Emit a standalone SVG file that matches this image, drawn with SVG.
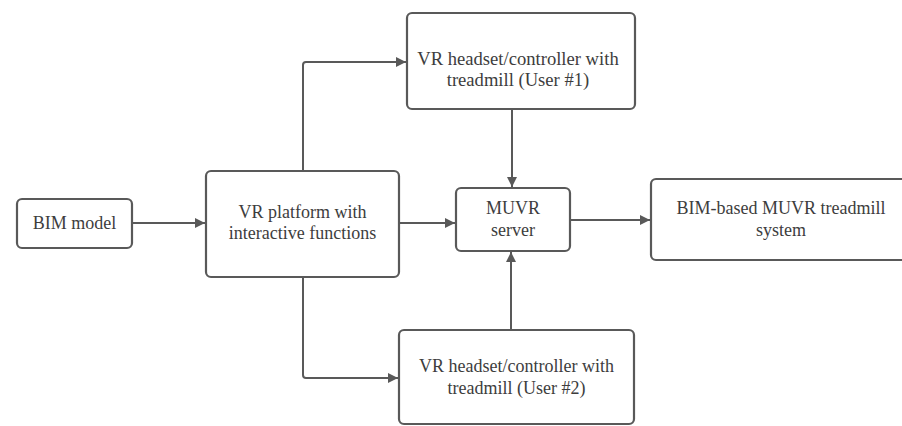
<svg xmlns="http://www.w3.org/2000/svg" width="902" height="426" viewBox="0 0 902 426">
<style>
.box{fill:#fff;stroke:#595959;stroke-width:2.2}
.lbl{font-family:"Liberation Serif","Times New Roman",serif;font-size:18px;fill:#3d3d3d;text-anchor:middle}
.big{font-size:18.6px}
.edge{fill:none;stroke:#595959;stroke-width:2}
</style>
<defs>
<marker id="arr" viewBox="0 0 10 10" refX="10" refY="5" markerWidth="10" markerHeight="10" markerUnits="userSpaceOnUse" orient="auto">
<path d="M0,0 L10,5 L0,10 Z" fill="#595959"/>
</marker>
</defs>
<rect width="902" height="426" fill="#fff"/>
<g id="connectors">
<path class="edge" d="M132,223 H205" marker-end="url(#arr)"/>
<path class="edge" d="M303,171 V65 Q303,62 306,62 H406" marker-end="url(#arr)"/>
<path class="edge" d="M303,277 V375 Q303,378 306,378 H398" marker-end="url(#arr)"/>
<path class="edge" d="M399,223 H455" marker-end="url(#arr)"/>
<path class="edge" d="M512,109 V187" marker-end="url(#arr)"/>
<path class="edge" d="M511,330 V252" marker-end="url(#arr)"/>
<path class="edge" d="M570,220 H650" marker-end="url(#arr)"/>
</g>
<g id="bim-model">
<rect class="box" x="17" y="199" width="115" height="49" rx="5"/>
<text class="lbl" x="74.5" y="229">BIM model</text>
</g>
<g id="vr-platform">
<rect class="box" x="206" y="171" width="193" height="106" rx="5"/>
<text class="lbl" x="302.5" y="218">VR platform with</text>
<text class="lbl" x="302.5" y="239">interactive functions</text>
</g>
<g id="headset-user1">
<rect class="box" x="407" y="13" width="228" height="96" rx="5"/>
<text class="lbl big" x="518" y="65">VR headset/controller with</text>
<text class="lbl big" x="518" y="86">treadmill (User #1)</text>
</g>
<g id="muvr-server">
<rect class="box" x="456" y="188" width="114" height="63" rx="5"/>
<text class="lbl" x="513" y="214">MUVR</text>
<text class="lbl" x="513" y="236">server</text>
</g>
<g id="headset-user2">
<rect class="box" x="399" y="330" width="235" height="94" rx="5"/>
<text class="lbl" x="516.5" y="372">VR headset/controller with</text>
<text class="lbl" x="516.5" y="394">treadmill (User #2)</text>
</g>
<g id="bim-muvr-system">
<rect class="box" x="651" y="179" width="260" height="81" rx="5"/>
<text class="lbl" x="781" y="214">BIM-based MUVR treadmill</text>
<text class="lbl" x="781" y="236">system</text>
</g>
</svg>
